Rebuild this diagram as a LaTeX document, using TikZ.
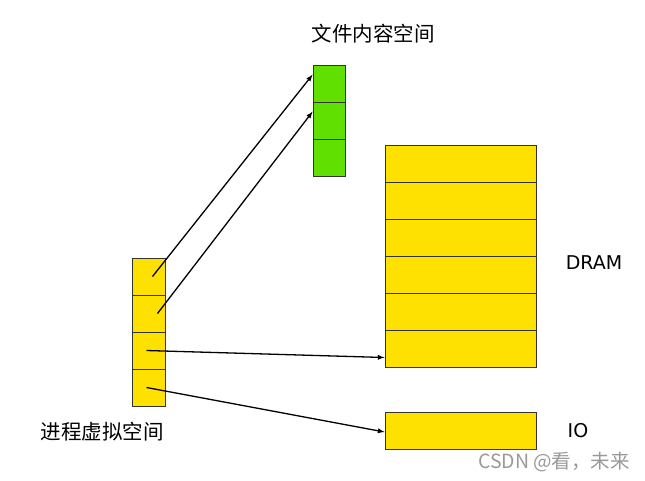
\documentclass[tikz,border=0pt]{standalone}
\usepackage{fontspec}
\setmainfont{DejaVu Sans}
\newfontfamily\cjk{Noto Sans CJK SC}
\begin{document}
\begin{tikzpicture}[x=1pt,y=-1pt,
  cell/.style={draw=black!80,line width=0.8pt,minimum width=33pt,minimum height=37pt,inner sep=0pt,fill=ylw},
  gcell/.style={cell,fill=grn},
  wide/.style={cell,minimum width=151pt},
  lbl/.style={font=\cjk\fontsize{20.5}{22}\selectfont,inner sep=0pt},
  arr/.style={-latex,line width=1.3pt}]
\definecolor{ylw}{HTML}{FFE100}
\definecolor{grn}{HTML}{5FE000}
\useasboundingbox (0,0) rectangle (645,480);
\foreach \i in {1,2,3}{\node[gcell,minimum width=32pt] (g\i) at (329,{65+37*(\i-0.5)}) {};}
\foreach \i in {1,...,4}{\node[cell] (l\i) at (148.5,{258+37*(\i-0.5)}) {};}
\foreach \i in {1,...,6}{\node[wide] (d\i) at (460.5,{145+37*(\i-0.5)}) {};}
\node[wide] (io) at (460.5,430.5) {};
\node[lbl] (t1) at (373,34) {文件内容空间};
\node[lbl] (t2) at (102,432) {进程虚拟空间};
\node[lbl,font=\fontsize{19}{22}\selectfont] (t3) at (594,263) {DRAM};
\node[lbl,font=\fontsize{19}{22}\selectfont] (t4) at (578,431) {IO};
\node[font=\cjk\fontsize{19.5}{22}\selectfont,text=black!40,inner sep=0pt] (wm) at (554,462) {CSDN @看，未来};
\draw[arr] ([xshift=4pt]l1.center) -- ([yshift=-10pt]g1.north west);
\draw[arr] ([xshift=9pt]l2.center) -- ([yshift=-10pt]g2.north west);
\draw[arr] ([xshift=-2pt]l3.center) -- ([yshift=-9pt]d6.west);
\draw[arr] ([xshift=-2pt]l4.center) -- ([yshift=-1.5pt]io.west);
\end{tikzpicture}
\end{document}
